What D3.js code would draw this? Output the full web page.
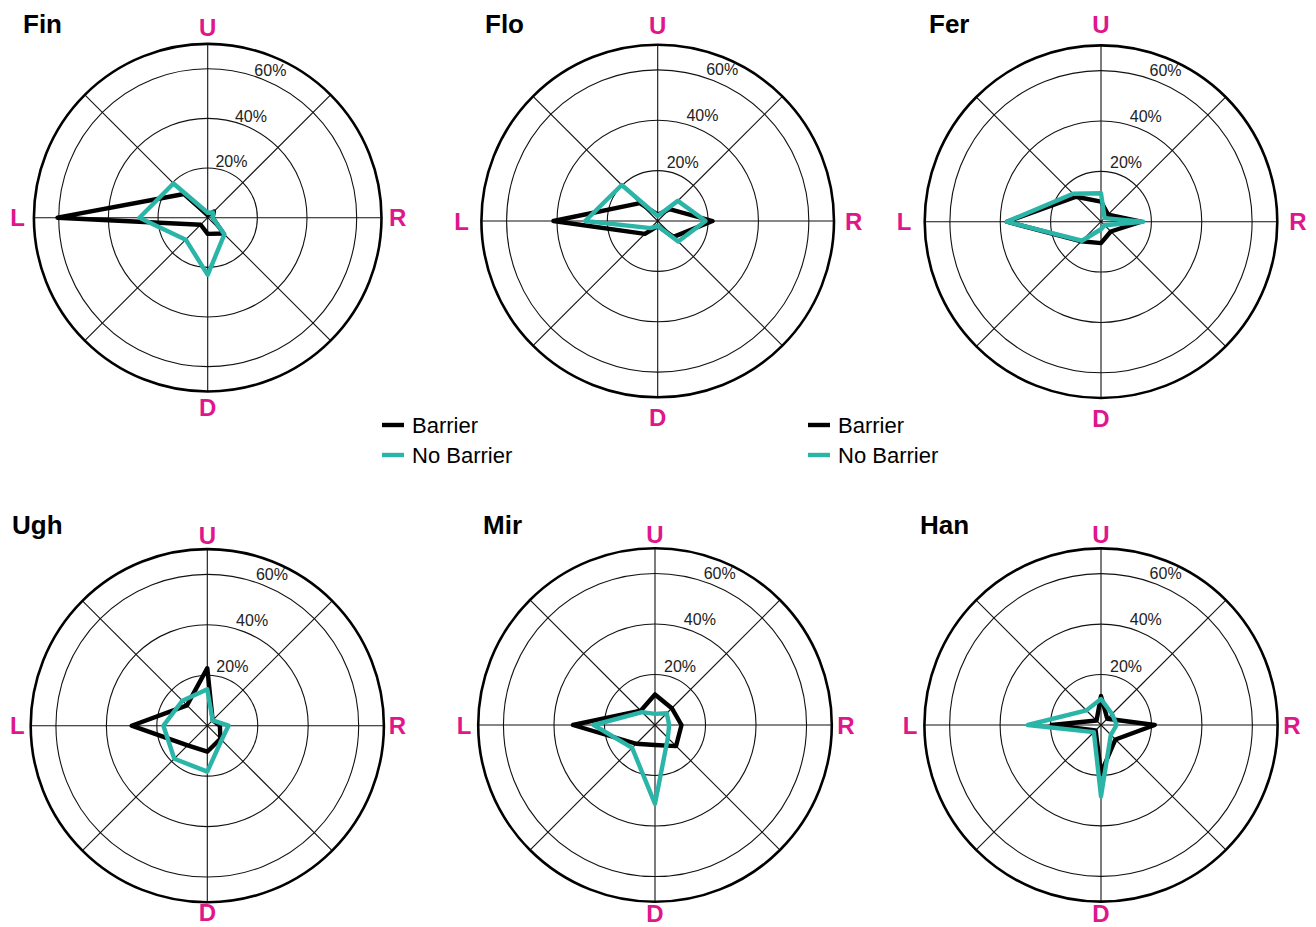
<!DOCTYPE html>
<html>
<head>
<meta charset="utf-8">
<script src="https://cdn.jsdelivr.net/npm/d3@7"></script>
<style>
  html, body { margin: 0; padding: 0; background: #fff; }
  svg { display: block; font-family: "Liberation Sans", Arial, Helvetica, sans-serif; }
</style>
</head>
<body>
<svg id="chart" width="1316" height="927"></svg>
<script>
// Eight movement directions, clockwise from straight up
const directions = ["U", "UR", "R", "DR", "D", "DL", "L", "UL"];
const compassLabels = ["U", "R", "D", "L"];
const ringTicks = [20, 40, 60];
const tickLabels = ["20%", "40%", "60%"];
const radialMax = 70;

const panelNames = ["Fin", "Flo", "Fer", "Ugh", "Mir", "Han"];
const seriesNames = ["Barrier", "No Barrier"];

// Share of responses (%) per direction, order as in `directions`
const finBarrier   = [1, 3.5, 2, 9, 6.5, 4, 60.5, 13.5];
const finNoBarrier = [2, 3, 2, 9.5, 23, 12.5, 27.5, 19.5];
const floBarrier   = [2.5, 6.6, 21.8, 8.9, 2, 7.2, 41.4, 10];
const floNoBarrier = [2, 11.3, 19, 11.5, 2, 4, 28.8, 20.2];
const ferBarrier   = [8, 4, 16, 5.5, 8.5, 11, 37.4, 14];
const ferNoBarrier = [11.3, 2, 16.7, 2, 3, 10.7, 37.4, 15.7];
const ughBarrier   = [22.8, 3, 5, 7.3, 10.3, 11, 30, 11.4];
const ughNoBarrier = [14.4, 3, 8.4, 8, 18.2, 18.5, 17.4, 14];
const mirBarrier   = [12.1, 9.4, 10.5, 11.8, 7.9, 10.5, 32.5, 8];
const mirNoBarrier = [4.4, 6.6, 5.6, 7.2, 31.2, 12.8, 24.3, 7.2];
const hanBarrier   = [11.5, 3.5, 21.3, 8.1, 19, 3, 19.6, 2.5];
const hanNoBarrier = [10.3, 6.2, 6.2, 5.5, 28.3, 4, 29, 8.2];

const barrierSeries   = [finBarrier, floBarrier, ferBarrier, ughBarrier, mirBarrier, hanBarrier];
const noBarrierSeries = [finNoBarrier, floNoBarrier, ferNoBarrier, ughNoBarrier, mirNoBarrier, hanNoBarrier];

// Panel geometry: centre, outer radius, compass label distance, title anchor
const panelLayout = [
  { cx: 207.7, cy: 217.7, r: 173.8, labelR: 190, tickPad: 11,   tx: 23,  ty: 33 },
  { cx: 657.7, cy: 221,   r: 176.3, labelR: 196, tickPad: 13.5, tx: 485, ty: 33 },
  { cx: 1101,  cy: 221.7, r: 176.3, labelR: 197, tickPad: 13.5, tx: 929, ty: 33 },
  { cx: 207.3, cy: 725.7, r: 176.6, labelR: 190, tickPad: 13.5, tx: 12,  ty: 534 },
  { cx: 655,   cy: 725,   r: 176.8, labelR: 191, tickPad: 13.5, tx: 483, ty: 534 },
  { cx: 1101,  cy: 725,   r: 176.6, labelR: 191, tickPad: 13.5, tx: 920, ty: 534 }
];
const legendLayout = [ { x: 382, y: 425 }, { x: 808, y: 425 } ];

const W = 1316, H = 927;
const colors = { "Barrier": "#000000", "No Barrier": "#2bb5a8" };
const compassColor = "#e0168c";
const gridColor = "#111";

const svg = d3.select("#chart");
svg.append("rect").attr("width", W).attr("height", H).attr("fill", "#fff");

const angle = d3.scalePoint().domain(directions).range([0, 2 * Math.PI * 7 / 8]);

panelNames.forEach((name, i) => {
  const L = panelLayout[i];
  const rScale = d3.scaleLinear().domain([0, radialMax]).range([0, L.r]);
  const g = svg.append("g").attr("transform", `translate(${L.cx},${L.cy})`);

  // grid rings
  g.selectAll("circle.ring").data(ringTicks).join("circle")
    .attr("class", "ring")
    .attr("r", d => rScale(d))
    .attr("fill", "none").attr("stroke", gridColor).attr("stroke-width", 1.1);

  // spokes
  g.selectAll("line.spoke").data(directions).join("line")
    .attr("class", "spoke")
    .attr("x1", 0).attr("y1", 0)
    .attr("x2", d => rScale(radialMax) * Math.sin(angle(d)))
    .attr("y2", d => -rScale(radialMax) * Math.cos(angle(d)))
    .attr("stroke", gridColor).attr("stroke-width", 1.1);

  // outer frame
  g.append("circle").attr("r", rScale(radialMax))
    .attr("fill", "none").attr("stroke", "#000").attr("stroke-width", 2.6);

  // radial tick labels along 22.5°
  const ta = Math.PI / 8 + 0.01;
  g.selectAll("text.tick").data(ringTicks).join("text")
    .attr("class", "tick")
    .attr("x", d => (rScale(d) + L.tickPad) * Math.sin(ta))
    .attr("y", d => -(rScale(d) + L.tickPad) * Math.cos(ta))
    .attr("text-anchor", "middle").attr("dominant-baseline", "central")
    .attr("font-size", 16).attr("fill", "#222")
    .text((d, k) => tickLabels[k]);

  // compass labels (kept inside the drawing area at the bottom edge)
  g.selectAll("text.compass").data(compassLabels).join("text")
    .attr("class", "compass")
    .attr("x", d => L.labelR * Math.sin(angle(d)))
    .attr("y", d => Math.min(-L.labelR * Math.cos(angle(d)), H - 14 - L.cy))
    .attr("text-anchor", "middle").attr("dominant-baseline", "central")
    .attr("font-size", 24).attr("font-weight", "bold").attr("fill", compassColor)
    .text(d => d);

  // series outlines
  const radial = d3.lineRadial()
    .angle((d, k) => angle(directions[k]))
    .radius(d => rScale(d))
    .curve(d3.curveLinearClosed);

  const series = [
    { key: "Barrier", values: barrierSeries[i] },
    { key: "No Barrier", values: noBarrierSeries[i] }
  ];
  g.selectAll("path.series").data(series).join("path")
    .attr("class", "series")
    .attr("d", d => radial(d.values))
    .attr("fill", "none")
    .attr("stroke", d => colors[d.key])
    .attr("stroke-width", 4.4)
    .attr("stroke-linejoin", "round");

  // panel title
  svg.append("text")
    .attr("x", L.tx).attr("y", L.ty)
    .attr("font-size", 26).attr("font-weight", "bold").attr("fill", "#000")
    .text(name);
});

// legends
legendLayout.forEach(pos => {
  const lg = svg.append("g").attr("transform", `translate(${pos.x},${pos.y})`);
  seriesNames.forEach((s, k) => {
    const y = k * 30;
    lg.append("line")
      .attr("x1", 0).attr("x2", 22).attr("y1", y).attr("y2", y)
      .attr("stroke", colors[s]).attr("stroke-width", 4.4);
    lg.append("text")
      .attr("x", 30).attr("y", y)
      .attr("dominant-baseline", "central")
      .attr("font-size", 22).attr("fill", "#000")
      .text(s);
  });
});
</script>
</body>
</html>
